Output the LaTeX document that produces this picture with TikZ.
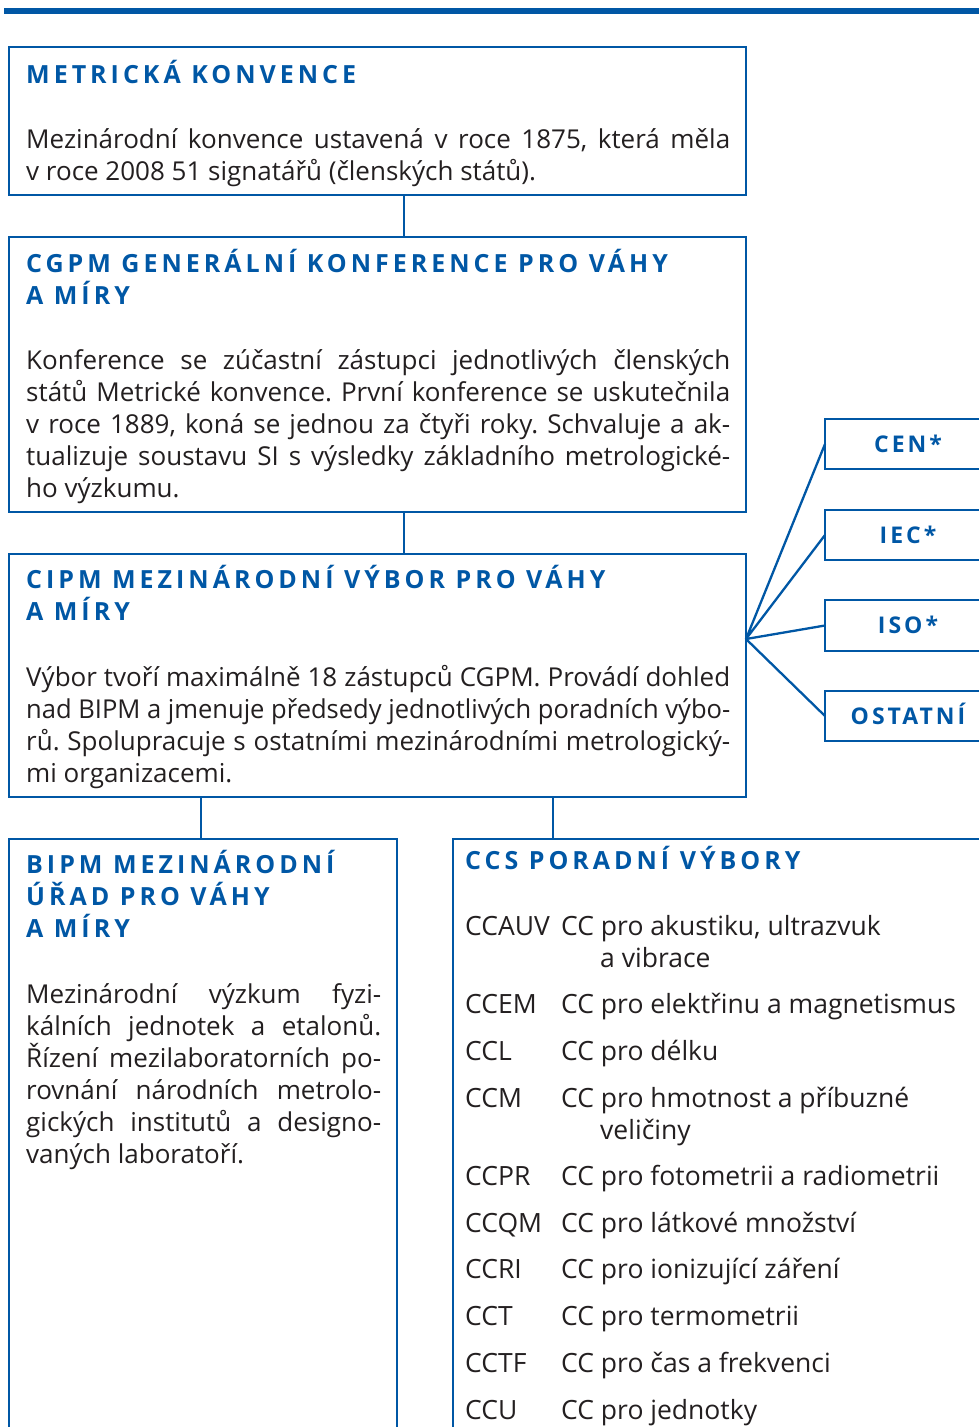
\documentclass[tikz,border=0pt]{standalone}
\usepackage{fontspec}
\usepackage{graphicx}
\setmainfont{Open Sans}
\newfontfamily\ttlfont{Open Sans}[LetterSpace=16]
\newfontfamily\lblfont{Open Sans}[LetterSpace=13]
\definecolor{cblue}{RGB}{0,87,165}
\definecolor{ctext}{RGB}{35,31,32}
\newlength\jwid
\newsavebox\jlbox
\newcommand\nsp{\spaceskip=0pt\xspaceskip=0pt\relax}
\newcommand\jl[1]{\sbox\jlbox{\nsp#1}%
  \ifdim\wd\jlbox>\jwid\resizebox{\jwid}{\ht\jlbox}{\usebox\jlbox}%
  \else\makebox[\jwid][s]{\nsp#1}\fi}
\newcommand\tstrut{\rule{0pt}{26pt}}
\frenchspacing
\begin{document}
\begin{tikzpicture}[x=1pt,y=-1pt,
  box/.style={draw=cblue,line width=2.6pt,inner sep=0pt,outer sep=0pt,anchor=north west},
  conn/.style={draw=cblue,line width=2.3pt},
  ttl/.style={anchor=north west,inner sep=0pt,text=cblue,align=left,
    font=\ttlfont\bfseries\fontsize{25}{32}\selectfont},
  lbl/.style={anchor=base,inner sep=0pt,text=cblue,
    font=\lblfont\bfseries\fontsize{23}{32}\selectfont},
  body/.style={anchor=north west,inner sep=0pt,text=ctext,align=left,
    text width=#1,execute at begin node={\setlength\jwid{#1}\frenchspacing},
    font=\fontsize{26}{32}\selectfont},
  cc/.style={anchor=base west,inner sep=0pt,text=ctext,
    font=\fontsize{26.5}{32}\selectfont}]
\useasboundingbox (0,0) rectangle (979,1427);
\clip (0,0) rectangle (979,1427);
% top rule
\coordinate (barL) at (4,11);
\coordinate (barR) at (985,11);
\draw[cblue,line width=6pt] (barL) -- (barR);
% boxes
\node[box,minimum width=737pt,minimum height=148pt] (b1) at (9,47) {};
\node[box,minimum width=737pt,minimum height=275pt] (b2) at (9,237) {};
\node[box,minimum width=737pt,minimum height=243pt] (b3) at (9,554) {};
\node[box,minimum width=388pt,minimum height=620pt] (b4) at (9,839) {};
\node[box,minimum width=560pt,minimum height=620pt] (b5) at (453,839) {};
\node[box,minimum width=170pt,minimum height=50pt] (cen) at (825,419) {};
\node[box,minimum width=170pt,minimum height=50pt] (iec) at (825,510) {};
\node[box,minimum width=170pt,minimum height=51pt] (iso) at (825,600) {};
\node[box,minimum width=170pt,minimum height=50pt] (ost) at (825,691) {};
% connectors
\coordinate (s1) at (404,0);
\coordinate (s2) at (201,0);
\coordinate (s3) at (553,0);
\coordinate (fan) at (746,639);
\draw[conn] (s1 |- b1.south) -- (s1 |- b2.north);
\draw[conn] (s1 |- b2.south) -- (s1 |- b3.north);
\draw[conn] (s2 |- b3.south) -- (s2 |- b4.north);
\draw[conn] (s3 |- b3.south) -- (s3 |- b5.north);
\draw[conn,line join=round] (cen.west) -- (fan) -- (iec.west);
\draw[conn,line join=round] (iso.west) -- (fan) -- (ost.west);
% right labels
\node[lbl] (tcen) at (908,452) {CEN*};
\node[lbl] (tiec) at (908,543) {IEC*};
\node[lbl] (tiso) at (908,633) {ISO*};
\node[lbl] (tost) at (908,724) {OSTATNÍ};
% box 1
\node[ttl] (t1) at (26,57) {\tstrut METRICKÁ KONVENCE};
\node[body=704pt] (p1) at (26,125.6) {\nsp\strut\jl{Mezinárodní konvence ustavená v roce 1875, která měla}\\
\nsp v roce 2008 51 signatářů (členských států).};
% box 2
\node[ttl] (t2) at (26,246) {\tstrut CGPM GENERÁLNÍ KONFERENCE PRO VÁHY\\A MÍRY};
\node[body=704pt] (p2) at (26,346.6) {\nsp\strut\jl{Konference se zúčastní zástupci jednotlivých členských}\\
\jl{států Metrické konvence. První konference se uskutečnila}\\
\jl{v roce 1889, koná se jednou za čtyři roky. Schvaluje a ak-}\\
\jl{tualizuje soustavu SI s výsledky základního metrologické-}\\
\nsp ho výzkumu.};
% box 3
\node[ttl] (t3) at (26,562) {\tstrut CIPM MEZINÁRODNÍ VÝBOR PRO VÁHY\\A MÍRY};
\node[body=704pt] (p3) at (26,663.6) {\nsp\strut\jl{Výbor tvoří maximálně 18 zástupců CGPM. Provádí dohled}\\
\jl{nad BIPM a jmenuje předsedy jednotlivých poradních výbo-}\\
\jl{rů. Spolupracuje s ostatními mezinárodními metrologický-}\\
\nsp mi organizacemi.};
% box 4
\node[ttl] (t4) at (26,847) {\tstrut BIPM MEZINÁRODNÍ\\ÚŘAD PRO VÁHY\\A MÍRY};
\node[body=355pt] (p4) at (26,980.6) {\nsp\strut\jl{Mezinárodní výzkum fyzi-}\\
\jl{kálních jednotek a etalonů.}\\
\jl{Řízení mezilaboratorních po-}\\
\jl{rovnání národních metrolo-}\\
\jl{gických institutů a designo-}\\
\nsp vaných laboratoří.};
% box 5
\node[ttl] (t5) at (465,843.5) {\tstrut CCS PORADNÍ VÝBORY};
\foreach \yy/\ab/\de [count=\i] in {
  935/CCAUV/{CC pro akustiku, ultrazvuk},
  1013/CCEM/{CC pro elektřinu a magnetismus},
  1060/CCL/{CC pro délku},
  1107/CCM/{CC pro hmotnost a příbuzné},
  1185/CCPR/{CC pro fotometrii a radiometrii},
  1232/CCQM/{CC pro látkové množství},
  1278/CCRI/{CC pro ionizující záření},
  1325/CCT/{CC pro termometrii},
  1372/CCTF/{CC pro čas a frekvenci},
  1419/CCU/{CC pro jednotky}}{
  \node[cc] (ab\i) at (465,\yy) {\ab};
  \node[cc] (de\i) at (561,\yy) {\de};
}
\node[cc] (de1b) at (600,967) {a vibrace};
\node[cc] (de4b) at (600,1139) {veličiny};
\end{tikzpicture}
\end{document}
